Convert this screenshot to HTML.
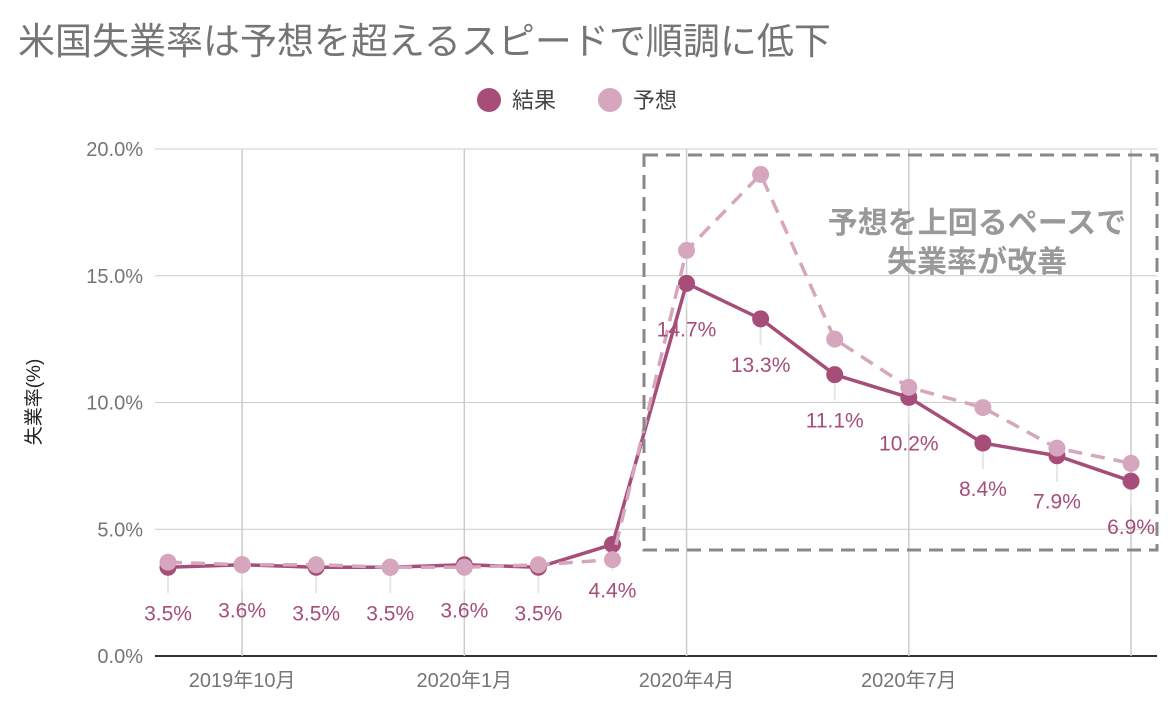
<!DOCTYPE html>
<html><head><meta charset="utf-8"><style>
body{margin:0;background:#fff;}
svg text{font-family:"Liberation Sans","Noto Sans CJK JP",sans-serif;}
</style></head><body>
<svg id="c" width="1168" height="716" xmlns="http://www.w3.org/2000/svg">
<text x="18" y="54" font-size="37" fill="#757575">米国失業率は予想を超えるスピードで順調に低下</text>
<g>
<circle cx="489" cy="100" r="12" fill="#a64d79"/>
<text x="512" y="108" font-size="22" fill="#444">結果</text>
<circle cx="610" cy="100" r="12" fill="#d5a6bd"/>
<text x="633" y="108" font-size="22" fill="#444">予想</text>
</g>
<text transform="translate(40,402) rotate(-90)" text-anchor="middle" font-size="19" fill="#222">失業率(%)</text>
<g id="grid"></g><g id="marks"></g>
<g>
<rect x="644" y="155" width="513" height="395" fill="none" stroke="#888" stroke-width="3" stroke-dasharray="14,8"/>
<text x="977" y="233" text-anchor="middle" font-size="30" font-weight="bold" fill="#999">予想を上回るペースで</text>
<text x="977" y="272" text-anchor="middle" font-size="30" font-weight="bold" fill="#999">失業率が改善</text>
</g>
</svg>
<script>
const categories=["2019-09","2019-10","2019-11","2019-12","2020-01","2020-02","2020-03","2020-04","2020-05","2020-06","2020-07","2020-08","2020-09","2020-10"];
const results=[3.5,3.6,3.5,3.5,3.6,3.5,4.4,14.7,13.3,11.1,10.2,8.4,7.9,6.9];
const forecasts=[3.7,3.6,3.6,3.5,3.5,3.6,3.8,16.0,19.0,12.5,10.6,9.8,8.2,7.6];
const yTicks=[0,5,10,15,20];
const xTickLabels=[[1,"2019年10月"],[4,"2020年1月"],[7,"2020年4月"],[10,"2020年7月"],[13,""]];
const NS="http://www.w3.org/2000/svg";
const X=i=>168+i*74.08, Y=v=>656-v*25.35;
function mk(p,t,a){const e=document.createElementNS(NS,t);for(const k in a)e.setAttribute(k,a[k]);p.appendChild(e);return e;}
const grid=document.getElementById('grid'),marks=document.getElementById('marks');
yTicks.forEach(v=>{
 const l=mk(grid,'line',{x1:155,x2:1157,y1:Y(v),y2:Y(v),stroke:v===0?'#333':'#ccc','stroke-width':v===0?2:1});
 
 
 const t=mk(grid,'text',{x:143,y:Y(v)+7,'text-anchor':'end','font-size':20,fill:'#757575'});
 t.textContent=v.toFixed(1)+'%';
 
 
});
xTickLabels.forEach(([i,s])=>{
 const l=mk(grid,'line',{x1:X(i),x2:X(i),y1:Y(20),y2:Y(0),stroke:'#ccc','stroke-width':1.5});
 
 
 const t=mk(grid,'text',{x:X(i),y:687,'text-anchor':'middle','font-size':20,fill:'#757575'});
 t.textContent=s;
 
 
});
results.forEach((v,i)=>{
 const l=mk(marks,'line',{x1:X(i),x2:X(i),y1:Y(v),y2:Y(v)+26,stroke:'#e6e6e6','stroke-width':2});
 
 
});
const rl=mk(marks,'polyline',{points:results.map((v,i)=>X(i)+','+Y(v)).join(' '),fill:'none',stroke:'#a64d79','stroke-width':3.5});


results.forEach((v,i)=>{
 const c=mk(marks,'circle',{cx:X(i),cy:Y(v),r:8.5,fill:'#a64d79'});
 
 
});
const fl=mk(marks,'polyline',{points:forecasts.map((v,i)=>X(i)+','+Y(v)).join(' '),fill:'none',stroke:'#d5a6bd','stroke-width':3.5,'stroke-dasharray':'14,9'});


forecasts.forEach((v,i)=>{
 const c=mk(marks,'circle',{cx:X(i),cy:Y(v),r:8.5,fill:'#d5a6bd'});
 
 
});
results.forEach((v,i)=>{
 const t=mk(marks,'text',{x:X(i),y:Y(v)+53,'text-anchor':'middle','font-size':21,fill:'#a64d79'});
 t.textContent=v.toFixed(1)+'%';
 
 
});
</script>
</body></html>
